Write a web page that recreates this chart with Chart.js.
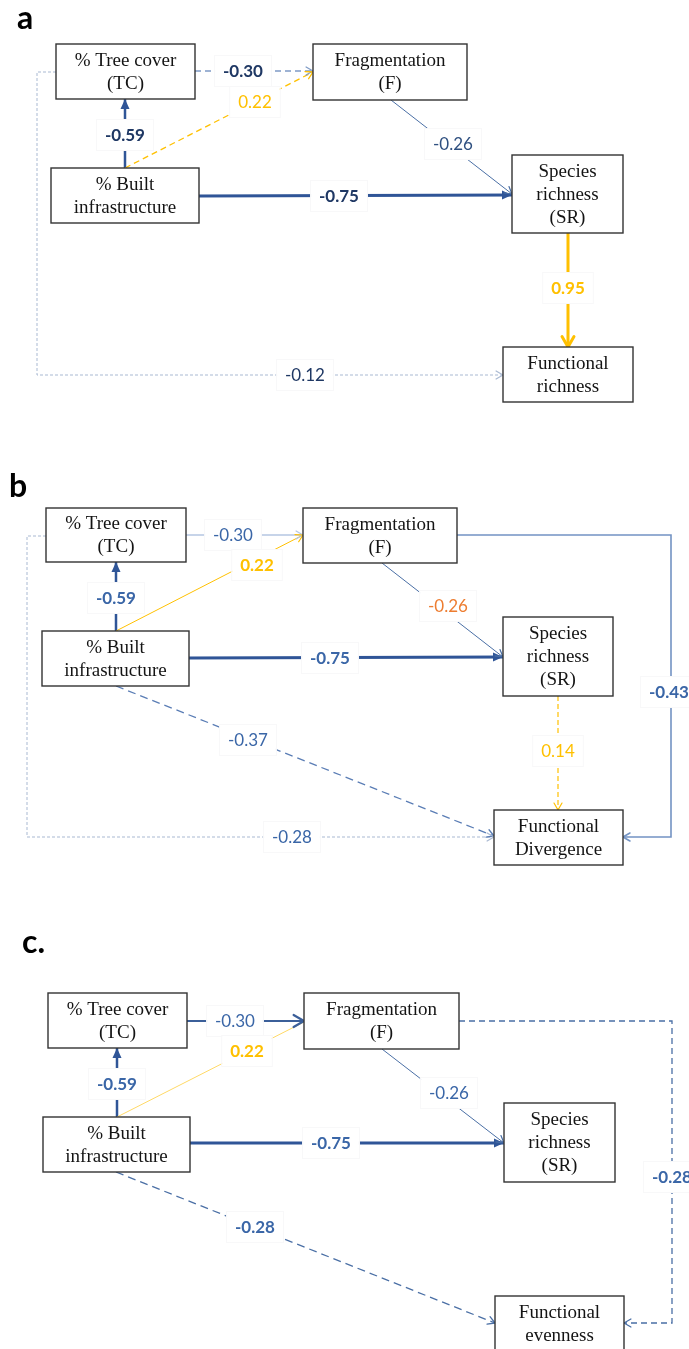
<!DOCTYPE html>
<html>
<head>
<meta charset="utf-8">
<script src="https://cdn.jsdelivr.net/npm/chart.js@4.4.1/dist/chart.umd.min.js"></script>
<style>
  html, body { margin: 0; padding: 0; background: #fff; }
  #wrap { width: 689px; height: 1349px; position: relative; }
</style>
</head>
<body>
<div id="wrap"><canvas id="pathChart"></canvas></div>
<script>
// panel titles, node names and path coefficients
const panelTitles = ['a', 'b', 'c.'];

const nodesA = [['% Tree cover', '(TC)'], ['Fragmentation', '(F)'], ['% Built', 'infrastructure'], ['Species', 'richness', '(SR)'], ['Functional', 'richness']];
const nodesB = [['% Tree cover', '(TC)'], ['Fragmentation', '(F)'], ['% Built', 'infrastructure'], ['Species', 'richness', '(SR)'], ['Functional', 'Divergence']];
const nodesC = [['% Tree cover', '(TC)'], ['Fragmentation', '(F)'], ['% Built', 'infrastructure'], ['Species', 'richness', '(SR)'], ['Functional', 'evenness']];

const pathsA = ['TC -> F', 'BI -> F', 'BI -> TC', 'BI -> SR', 'F -> SR', 'SR -> FR', 'TC -> FR'];
const coefA = [-0.30, 0.22, -0.59, -0.75, -0.26, 0.95, -0.12];

const pathsB = ['TC -> F', 'BI -> F', 'BI -> TC', 'BI -> SR', 'F -> SR', 'F -> FD', 'SR -> FD', 'BI -> FD', 'TC -> FD'];
const coefB = [-0.30, 0.22, -0.59, -0.75, -0.26, -0.43, 0.14, -0.37, -0.28];

const pathsC = ['TC -> F', 'BI -> F', 'BI -> TC', 'BI -> SR', 'F -> SR', 'F -> FE', 'BI -> FE'];
const coefC = [-0.30, 0.22, -0.59, -0.75, -0.26, -0.28, -0.28];

// colours
const BLUE = '#2F5597';
const NAVY = '#1F3864';
const MID = '#3A66A7';
const YEL = '#FFC000';
const PALE = '#A9B9D2';

// layout: boxes [x0, y0, x1, y1], edge routes, label spots, line styles
const layoutA = {
  title: [17, 29],
  boxes: [[56, 44, 195, 99], [313, 44, 467, 100], [51, 168, 199, 223], [512, 155, 623, 233], [503, 347, 633, 402]],
  edges: [
    { route: [[195, 71], [313, 71]], at: [243, 71], color: '#7F9BC6', width: 1.3, dash: [6, 4], head: 'open', text: NAVY, bold: true },
    { route: [[125, 168], [313, 72]], at: [255, 102], color: YEL, width: 1.3, dash: [6, 4], head: 'open', text: YEL, bold: false },
    { route: [[125, 168], [125, 99]], at: [125, 135], color: BLUE, width: 2.5, dash: [], head: 'fill', text: NAVY, bold: true },
    { route: [[199, 196], [512, 195]], at: [339, 196], color: BLUE, width: 3, dash: [], head: 'fill', text: NAVY, bold: true },
    { route: [[391, 100], [512, 194]], at: [453, 144], color: '#4A6FA5', width: 1, dash: [], head: 'open', text: '#2F5080', bold: false },
    { route: [[568, 233], [568, 347]], at: [568, 288], color: YEL, width: 3, dash: [], head: 'openBig', text: YEL, bold: true },
    { route: [[56, 72], [37, 72], [37, 375], [503, 375]], at: [305, 375], color: PALE, width: 1, dash: [3, 2], head: 'open', text: NAVY, bold: false }
  ]
};

const layoutB = {
  title: [9, 497],
  boxes: [[46, 508, 186, 562], [303, 508, 457, 563], [42, 631, 189, 686], [503, 617, 613, 696], [494, 810, 623, 865]],
  edges: [
    { route: [[186, 535], [303, 535]], at: [233, 535], color: '#B4C6E2', width: 1.3, dash: [], head: 'open', text: MID, bold: false },
    { route: [[116, 631], [303, 535]], at: [257, 565], color: YEL, width: 1, dash: [], head: 'open', text: YEL, bold: true },
    { route: [[116, 631], [116, 562]], at: [116, 598], color: BLUE, width: 2.5, dash: [], head: 'fill', text: MID, bold: true },
    { route: [[189, 658], [503, 657]], at: [330, 658], color: BLUE, width: 3, dash: [], head: 'fill', text: MID, bold: true },
    { route: [[382, 563], [503, 657]], at: [448, 606], color: '#4A6FA5', width: 1, dash: [], head: 'open', text: '#ED7D31', bold: false },
    { route: [[457, 535], [671, 535], [671, 837], [623, 837]], at: [669, 692], color: '#7393C3', width: 1.6, dash: [], head: 'open', text: MID, bold: true },
    { route: [[558, 696], [558, 810]], at: [558, 751], color: YEL, width: 1.2, dash: [5, 3], head: 'open', text: YEL, bold: false },
    { route: [[116, 686], [494, 836]], at: [248, 740], color: '#5A7DB5', width: 1.3, dash: [8, 5], head: 'open', text: MID, bold: false },
    { route: [[46, 536], [27, 536], [27, 837], [494, 837]], at: [292, 837], color: PALE, width: 1, dash: [3, 2], head: 'open', text: MID, bold: false }
  ]
};

const layoutC = {
  title: [22, 953],
  boxes: [[48, 993, 187, 1048], [304, 993, 459, 1049], [43, 1117, 190, 1172], [504, 1103, 615, 1182], [495, 1296, 624, 1351]],
  edges: [
    { route: [[187, 1021], [304, 1021]], at: [235, 1021], color: '#3B5F99', width: 2.2, dash: [], head: 'openBig', text: MID, bold: false },
    { route: [[117, 1117], [304, 1022]], at: [247, 1051], color: '#FFD966', width: 1, dash: [], head: 'none', text: YEL, bold: true },
    { route: [[117, 1117], [117, 1048]], at: [117, 1084], color: BLUE, width: 2.5, dash: [], head: 'fill', text: MID, bold: true },
    { route: [[190, 1143], [504, 1143]], at: [331, 1143], color: BLUE, width: 3, dash: [], head: 'fill', text: MID, bold: true },
    { route: [[382, 1049], [504, 1143]], at: [449, 1093], color: '#4A6FA5', width: 1, dash: [], head: 'open', text: MID, bold: false },
    { route: [[459, 1021], [672, 1021], [672, 1323], [624, 1323]], at: [672, 1177], color: '#4A6FA5', width: 1.3, dash: [6, 4], head: 'open', text: MID, bold: true },
    { route: [[116, 1172], [495, 1323]], at: [255, 1227], color: '#4A6FA5', width: 1.3, dash: [8, 5], head: 'open', text: MID, bold: true }
  ]
};

const panels = [
  { title: panelTitles[0], nodes: nodesA, paths: pathsA, coef: coefA, layout: layoutA },
  { title: panelTitles[1], nodes: nodesB, paths: pathsB, coef: coefB, layout: layoutB },
  { title: panelTitles[2], nodes: nodesC, paths: pathsC, coef: coefC, layout: layoutC }
];

// one line dataset per path
const datasets = [];
panels.forEach(p => {
  p.layout.edges.forEach((e, i) => {
    datasets.push({
      label: p.paths[i],
      data: e.route.map(pt => ({ x: pt[0], y: pt[1] })),
      showLine: true,
      borderColor: e.color,
      borderWidth: e.width,
      borderDash: e.dash,
      pointRadius: 0,
      fill: false,
      tension: 0
    });
  });
});

function arrowHead(ctx, xs, ys, e) {
  const n = e.route.length;
  const tx = xs.getPixelForValue(e.route[n - 1][0]);
  const ty = ys.getPixelForValue(e.route[n - 1][1]);
  const fx = xs.getPixelForValue(e.route[n - 2][0]);
  const fy = ys.getPixelForValue(e.route[n - 2][1]);
  const a = Math.atan2(ty - fy, tx - fx);
  ctx.save();
  ctx.setLineDash([]);
  ctx.strokeStyle = e.color;
  ctx.fillStyle = e.color;
  if (e.head === 'fill') {
    const len = 10, hw = 4.5;
    ctx.beginPath();
    ctx.moveTo(tx, ty);
    ctx.lineTo(tx - len * Math.cos(a) + hw * Math.sin(a), ty - len * Math.sin(a) - hw * Math.cos(a));
    ctx.lineTo(tx - len * Math.cos(a) - hw * Math.sin(a), ty - len * Math.sin(a) + hw * Math.cos(a));
    ctx.closePath();
    ctx.fill();
  } else if (e.head === 'open' || e.head === 'openBig') {
    const len = e.head === 'openBig' ? 12 : 8;
    const spread = Math.PI / 6;
    ctx.lineWidth = Math.max(e.width, 1.2);
    ctx.lineCap = 'round';
    ctx.lineJoin = 'round';
    ctx.beginPath();
    ctx.moveTo(tx - len * Math.cos(a - spread), ty - len * Math.sin(a - spread));
    ctx.lineTo(tx, ty);
    ctx.lineTo(tx - len * Math.cos(a + spread), ty - len * Math.sin(a + spread));
    ctx.stroke();
  }
  ctx.restore();
}

const diagramPlugin = {
  id: 'pathDiagram',
  afterDatasetsDraw(chart) {
    const ctx = chart.ctx;
    const xs = chart.scales.x;
    const ys = chart.scales.y;
    panels.forEach(p => {
      const L = p.layout;
      // arrow heads
      L.edges.forEach(e => arrowHead(ctx, xs, ys, e));
      // coefficient labels on white text boxes
      L.edges.forEach((e, i) => {
        const x = xs.getPixelForValue(e.at[0]);
        const y = ys.getPixelForValue(e.at[1]);
        const txt = p.coef[i].toFixed(2);
        ctx.save();
        ctx.font = (e.bold ? 'bold ' : '') + '17px Lato';
        const w = ctx.measureText(txt).width;
        ctx.fillStyle = '#fff';
        ctx.fillRect(x - w / 2 - 8, y - 15, w + 16, 30);
        ctx.strokeStyle = '#F8F8F9';
        ctx.lineWidth = 1;
        ctx.strokeRect(x - w / 2 - 8.5, y - 15.5, w + 17, 31);
        ctx.fillStyle = e.text;
        ctx.textAlign = 'center';
        ctx.textBaseline = 'middle';
        ctx.fillText(txt, x, y + 1);
        ctx.restore();
      });
      // variable boxes
      L.boxes.forEach((b, i) => {
        const x0 = xs.getPixelForValue(b[0]), x1 = xs.getPixelForValue(b[2]);
        const y0 = ys.getPixelForValue(b[1]), y1 = ys.getPixelForValue(b[3]);
        ctx.save();
        ctx.fillStyle = '#fff';
        ctx.fillRect(x0, y0, x1 - x0, y1 - y0);
        ctx.strokeStyle = '#333';
        ctx.lineWidth = 1.4;
        ctx.strokeRect(x0, y0, x1 - x0, y1 - y0);
        ctx.fillStyle = '#141414';
        ctx.font = '19px "Liberation Serif"';
        ctx.textAlign = 'center';
        ctx.textBaseline = 'middle';
        const lines = p.nodes[i];
        const cx = (x0 + x1) / 2, cy = (y0 + y1) / 2;
        lines.forEach((t, k) => {
          ctx.fillText(t, cx, cy + (k - (lines.length - 1) / 2) * 23 + 1);
        });
        ctx.restore();
      });
      // panel letter
      ctx.save();
      ctx.fillStyle = '#000';
      ctx.font = 'bold 32px Lato';
      ctx.textAlign = 'left';
      ctx.textBaseline = 'alphabetic';
      ctx.fillText(p.title, xs.getPixelForValue(L.title[0]), ys.getPixelForValue(L.title[1]));
      ctx.restore();
    });
  }
};

new Chart(document.getElementById('pathChart').getContext('2d'), {
  type: 'scatter',
  data: { datasets: datasets },
  options: {
    responsive: true,
    maintainAspectRatio: false,
    animation: false,
    layout: { padding: 0 },
    scales: {
      x: { type: 'linear', min: 0, max: 689, display: false },
      y: { type: 'linear', min: 0, max: 1349, reverse: true, display: false }
    },
    plugins: {
      legend: { display: false },
      tooltip: { enabled: false }
    }
  },
  plugins: [diagramPlugin]
});
</script>
</body>
</html>
